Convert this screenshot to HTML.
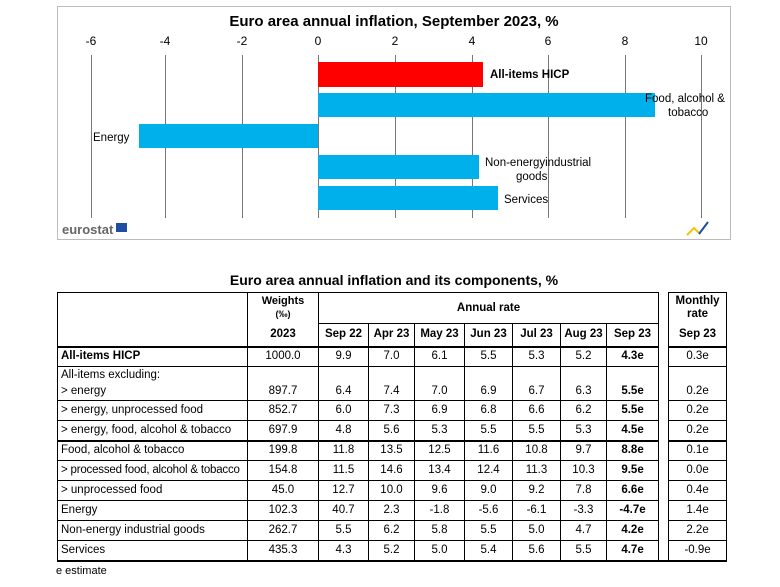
<!DOCTYPE html>
<html><head><meta charset="utf-8"><style>
body{margin:0;width:780px;height:587px;background:#fff;font-family:"Liberation Sans",Arial,sans-serif;position:relative;overflow:hidden}
.a{position:absolute}
table{position:absolute;border-collapse:collapse;font-size:11.5px;table-layout:fixed}
td{border:1px solid #000;padding:0 3px;height:20px;text-align:center;white-space:nowrap;overflow:hidden;line-height:13px;box-sizing:border-box}
td.g{border-top-style:hidden;border-bottom-style:hidden;padding:0}
tr.h1 td{height:31px}
tr.h2 td{height:23px}
tr.ex td{height:31px;vertical-align:bottom;line-height:16px;padding-bottom:1px}
tr.k td{border-bottom:2px solid #000}
</style></head><body>
<div class="a" style="left:57px;top:6px;width:672px;height:232px;border:1px solid #bbb"></div>
<svg class="a" style="left:0;top:0" width="780" height="300">
<text x="394" y="26" text-anchor="middle" font-size="15" font-weight="bold" font-family="Liberation Sans">Euro area annual inflation, September 2023, %</text>
<g font-size="12" text-anchor="middle" font-family="Liberation Sans">
<text x="91" y="45">-6</text><text x="165" y="45">-4</text><text x="242" y="45">-2</text><text x="318" y="45">0</text><text x="395" y="45">2</text><text x="472" y="45">4</text><text x="548" y="45">6</text><text x="625" y="45">8</text><text x="701" y="45">10</text>
</g>
<g stroke="#777"><line x1="91.5" y1="55" x2="91.5" y2="218"/><line x1="165.5" y1="55" x2="165.5" y2="218"/><line x1="242.5" y1="55" x2="242.5" y2="218"/><line x1="318.5" y1="55" x2="318.5" y2="218"/><line x1="395.5" y1="55" x2="395.5" y2="218"/><line x1="472.5" y1="55" x2="472.5" y2="218"/><line x1="548.5" y1="55" x2="548.5" y2="218"/><line x1="625.5" y1="55" x2="625.5" y2="218"/><line x1="701.5" y1="55" x2="701.5" y2="218"/></g>
<rect x="318" y="62" width="165" height="25" fill="#f00"/>
<rect x="318" y="93" width="337" height="24" fill="#00b0ea"/>
<rect x="139" y="124" width="179" height="24" fill="#00b0ea"/>
<rect x="318" y="155" width="161" height="24" fill="#00b0ea"/>
<rect x="318" y="186" width="180" height="24" fill="#00b0ea"/>
<g font-size="11.5" font-family="Liberation Sans">
<text x="490" y="78" font-weight="bold">All-items HICP</text>
<text x="645" y="102">Food, alcohol &amp;</text><text x="668" y="116">tobacco</text>
<text x="93" y="141">Energy</text>
<text x="485" y="166">Non-energyindustrial</text><text x="516" y="180">goods</text>
<text x="504" y="203">Services</text>
<text x="62" y="234" font-size="13" fill="#666" font-weight="bold">eurostat</text>
</g>
<rect x="116" y="223" width="11" height="9" fill="#1d4ea0"/>
<path d="M687 235 L694 228 L699 233" stroke="#f5c400" stroke-width="2" fill="none"/>
<path d="M699 234 L708 222" stroke="#1d4ea0" stroke-width="2" fill="none"/>
<text x="394" y="285" text-anchor="middle" font-size="14" font-weight="bold" font-family="Liberation Sans">Euro area annual inflation and its components, %</text>
</svg>
<table style="left:57px;top:292px;width:669px">
<colgroup><col style="width:190px"><col style="width:71px"><col style="width:50px"><col style="width:46px"><col style="width:50px"><col style="width:48px"><col style="width:48px"><col style="width:46px"><col style="width:52px"><col style="width:10px"><col style="width:58px"></colgroup>
<tr class="h1" style="font-weight:bold"><td style="border-bottom:none"></td><td style="font-size:11px;border-bottom:none">Weights<br><span style="font-size:9px">(‰)</span></td><td colspan="7" style="border-bottom:none">Annual rate</td><td class="g"></td><td style="border-bottom:none">Monthly<br>rate</td></tr>
<tr class="h2 k" style="font-weight:bold"><td style="border-top:none"></td><td style="border-top:none">2023</td>
<td>Sep 22</td><td>Apr 23</td><td>May 23</td><td>Jun 23</td><td>Jul 23</td><td>Aug 23</td><td>Sep 23</td><td class="g"></td><td style="border-top:none">Sep 23</td></tr>
<tr><td style="text-align:left;font-weight:bold">All-items HICP</td><td>1000.0</td><td>9.9</td><td>7.0</td><td>6.1</td><td>5.5</td><td>5.3</td><td>5.2</td><td><b>4.3e</b></td><td class="g"></td><td>0.3e</td></tr>
<tr class="ex"><td style="text-align:left">All-items excluding:<br>&gt; energy</td><td>897.7</td><td>6.4</td><td>7.4</td><td>7.0</td><td>6.9</td><td>6.7</td><td>6.3</td><td><b>5.5e</b></td><td class="g"></td><td>0.2e</td></tr>
<tr><td style="text-align:left">&gt; energy, unprocessed food</td><td>852.7</td><td>6.0</td><td>7.3</td><td>6.9</td><td>6.8</td><td>6.6</td><td>6.2</td><td><b>5.5e</b></td><td class="g"></td><td>0.2e</td></tr>
<tr class="k"><td style="text-align:left">&gt; energy, food, alcohol &amp; tobacco</td><td>697.9</td><td>4.8</td><td>5.6</td><td>5.3</td><td>5.5</td><td>5.5</td><td>5.3</td><td><b>4.5e</b></td><td class="g"></td><td>0.2e</td></tr>
<tr><td style="text-align:left">Food, alcohol &amp; tobacco</td><td>199.8</td><td>11.8</td><td>13.5</td><td>12.5</td><td>11.6</td><td>10.8</td><td>9.7</td><td><b>8.8e</b></td><td class="g"></td><td>0.1e</td></tr>
<tr><td style="text-align:left;letter-spacing:-0.2px">&gt; processed food, alcohol &amp; tobacco</td><td>154.8</td><td>11.5</td><td>14.6</td><td>13.4</td><td>12.4</td><td>11.3</td><td>10.3</td><td><b>9.5e</b></td><td class="g"></td><td>0.0e</td></tr>
<tr><td style="text-align:left">&gt; unprocessed food</td><td>45.0</td><td>12.7</td><td>10.0</td><td>9.6</td><td>9.0</td><td>9.2</td><td>7.8</td><td><b>6.6e</b></td><td class="g"></td><td>0.4e</td></tr>
<tr><td style="text-align:left">Energy</td><td>102.3</td><td>40.7</td><td>2.3</td><td>-1.8</td><td>-5.6</td><td>-6.1</td><td>-3.3</td><td><b>-4.7e</b></td><td class="g"></td><td>1.4e</td></tr>
<tr><td style="text-align:left">Non-energy industrial goods</td><td>262.7</td><td>5.5</td><td>6.2</td><td>5.8</td><td>5.5</td><td>5.0</td><td>4.7</td><td><b>4.2e</b></td><td class="g"></td><td>2.2e</td></tr>
<tr class="k"><td style="text-align:left">Services</td><td>435.3</td><td>4.3</td><td>5.2</td><td>5.0</td><td>5.4</td><td>5.6</td><td>5.5</td><td><b>4.7e</b></td><td class="g"></td><td>-0.9e</td></tr>
</table>
<div class="a" style="left:56px;top:565px;font-size:11px">e estimate</div>
</body></html>
